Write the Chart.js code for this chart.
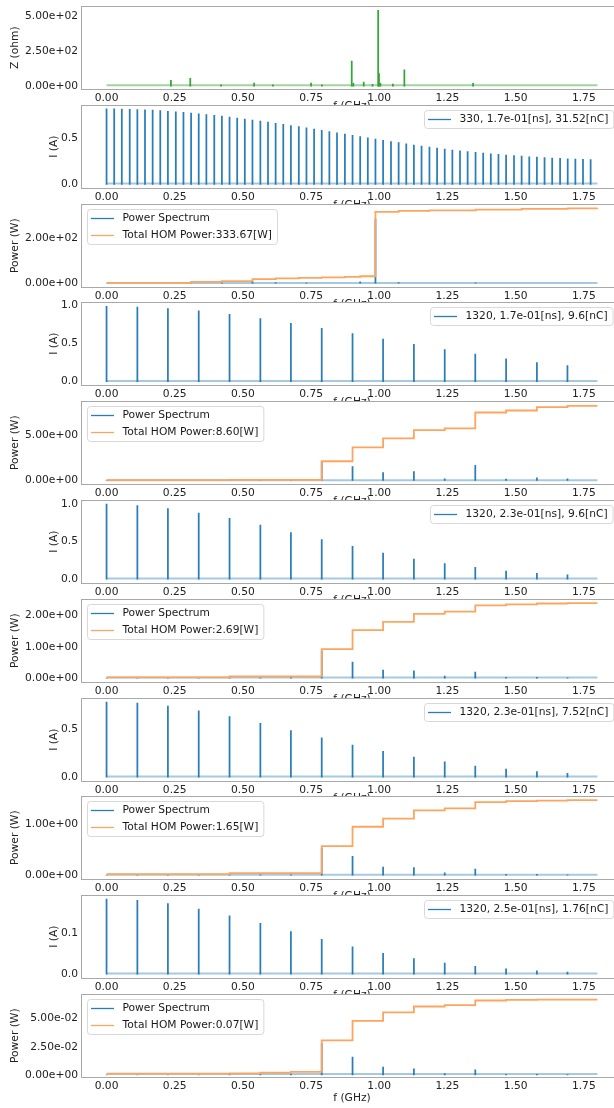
<!DOCTYPE html>
<html>
<head>
<meta charset="utf-8">
<script src="https://cdn.jsdelivr.net/npm/chart.js@4.4.0/dist/chart.umd.min.js"></script>
<style>
  html, body { margin: 0; padding: 0; background: #fff; }
  body { width: 614px; height: 1108px; overflow: hidden; position: relative; }
  canvas { position: absolute; left: 0; }
</style>
</head>
<body>
<script>
// frequency axis
const xTicks = [0, 0.25, 0.5, 0.75, 1.0, 1.25, 1.5, 1.75];
const fSpan = [0, 1.8];

// harmonic lines (GHz)
const f330 = [0.000, 0.028, 0.056, 0.085, 0.113, 0.141, 0.169, 0.197, 0.225, 0.254,
  0.282, 0.310, 0.338, 0.366, 0.395, 0.423, 0.451, 0.479, 0.507, 0.535,
  0.564, 0.592, 0.620, 0.648, 0.676, 0.705, 0.733, 0.761, 0.789, 0.817,
  0.845, 0.874, 0.902, 0.930, 0.958, 0.986, 1.014, 1.043, 1.071, 1.099,
  1.127, 1.155, 1.184, 1.212, 1.240, 1.268, 1.296, 1.324, 1.353, 1.381,
  1.409, 1.437, 1.465, 1.494, 1.522, 1.550, 1.578, 1.606, 1.634, 1.663,
  1.691, 1.719, 1.747, 1.775];
const f1320 = [0.000, 0.113, 0.225, 0.338, 0.451, 0.564, 0.676, 0.789,
  0.902, 1.014, 1.127, 1.240, 1.352, 1.465, 1.578, 1.690];

// impedance Z (ohm)
const zFreq = [0.236, 0.307, 0.420, 0.541, 0.610, 0.750, 0.790, 0.899, 0.905, 0.943, 0.975, 0.996, 0.999, 1.004, 1.050, 1.092, 1.344];
const zVals = [41, 56, 8, 22, 9, 22, 9, 179, 20, 29, 12, 543, 89, 20, 15, 116, 19];
const zBase = 6;

// current spectra I (A)
const i330 = [0.820, 0.820, 0.818, 0.816, 0.813, 0.810, 0.806, 0.801, 0.795, 0.789,
  0.782, 0.775, 0.767, 0.759, 0.750, 0.741, 0.731, 0.720, 0.709, 0.698,
  0.687, 0.676, 0.664, 0.652, 0.640, 0.627, 0.614, 0.600, 0.587, 0.573,
  0.560, 0.546, 0.533, 0.519, 0.506, 0.492, 0.479, 0.466, 0.453, 0.440,
  0.428, 0.416, 0.404, 0.393, 0.383, 0.373, 0.364, 0.355, 0.347, 0.339,
  0.332, 0.325, 0.318, 0.312, 0.306, 0.300, 0.295, 0.290, 0.286, 0.282,
  0.278, 0.275, 0.272, 0.270];
const i1320a = [0.99, 0.98, 0.96, 0.93, 0.885, 0.83, 0.767, 0.70, 0.63, 0.56, 0.49, 0.42, 0.36, 0.30, 0.25, 0.21];
const i1320b = [1.00, 0.98, 0.94, 0.88, 0.81, 0.72, 0.62, 0.53, 0.44, 0.35, 0.27, 0.21, 0.16, 0.11, 0.08, 0.06];
const i1320c = [0.78, 0.77, 0.74, 0.69, 0.63, 0.56, 0.485, 0.41, 0.335, 0.27, 0.21, 0.16, 0.115, 0.085, 0.058, 0.04];
const i1320d = [0.183, 0.180, 0.172, 0.159, 0.142, 0.124, 0.104, 0.085, 0.067, 0.051, 0.038, 0.027, 0.019, 0.013, 0.008, 0.0055];
const currentLabels = ['330, 1.7e-01[ns], 31.52[nC]', '1320, 1.7e-01[ns], 9.6[nC]',
  '1320, 2.3e-01[ns], 9.6[nC]', '1320, 2.3e-01[ns], 7.52[nC]', '1320, 2.5e-01[ns], 1.76[nC]'];

// power spectra (W) and cumulative HOM power steps
const p330F = [0.310, 0.423, 0.535, 0.620, 0.733, 0.930, 0.986, 1.071, 1.353];
const p330V = [5, 3, 10, 3, 2, 6, 284, 3, 2];
const step330F = [0, 0.310, 0.423, 0.535, 0.620, 0.705, 0.789, 0.874, 0.930, 0.986, 1.071, 1.184, 1.353, 1.522, 1.691, 1.800];
const step330 = [1.5, 6, 9, 18, 22, 24, 26, 28, 31, 317, 321, 324, 327, 330, 332, 333];
const spec5 = [0, 0, 0, 0, 0.02, 0.03, 0.04, 2.05, 1.53, 0.88, 0.99, 0.18, 1.68, 0.15, 0.29, 0.18];
const spec7 = [0, 0, 0, 0, 0.01, 0.01, 0.02, 0.87, 0.52, 0.26, 0.24, 0.07, 0.20, 0.03, 0.03, 0.01];
const spec9 = [0, 0, 0, 0, 0.01, 0.01, 0.01, 0.53, 0.37, 0.16, 0.15, 0.045, 0.12, 0.02, 0.02, 0.01];
const spec11 = [0, 0, 0, 0, 0.0003, 0.0005, 0.0007, 0.028, 0.0158, 0.0071, 0.0054, 0.0012, 0.0045, 0.0006, 0.0005, 0.0004];
const stepF = [0, 0.451, 0.789, 0.902, 1.014, 1.127, 1.240, 1.352, 1.465, 1.578, 1.690, 1.800];
const step5 = [0.04, 0.08, 2.12, 3.65, 4.64, 5.55, 5.73, 7.48, 7.70, 8.07, 8.21, 8.21];
const step7 = [0.03, 0.06, 0.93, 1.54, 1.80, 2.06, 2.13, 2.33, 2.36, 2.39, 2.40, 2.40];
const step9 = [0.02, 0.04, 0.57, 0.95, 1.11, 1.27, 1.31, 1.43, 1.45, 1.46, 1.47, 1.47];
const stepF11 = [0, 0.451, 0.564, 0.676, 0.789, 0.902, 1.014, 1.127, 1.240, 1.352, 1.465, 1.578, 1.690, 1.800];
const step11 = [0.0012, 0.0015, 0.0021, 0.0027, 0.0307, 0.0480, 0.0554, 0.0607, 0.0619, 0.0660, 0.0665, 0.0667, 0.0668, 0.0668];
const totalLabels = ['Total HOM Power:333.67[W]', 'Total HOM Power:8.60[W]',
  'Total HOM Power:2.69[W]', 'Total HOM Power:1.65[W]', 'Total HOM Power:0.07[W]'];

const BLUE = 'rgba(31,119,180,0.95)';
const BLUE_LIGHT = 'rgba(31,119,180,0.4)';
const ORANGE = '#fda55f';
const GREEN = 'rgba(44,160,44,0.95)';
const GREEN_LIGHT = 'rgba(44,160,44,0.45)';
const FONT = 10.7;

Chart.defaults.font.family = '"DejaVu Sans"';
Chart.defaults.font.size = FONT;
Chart.defaults.color = '#222';

const sci = (v) => {
    if (v === 0) return '0.00e+00';
    const e = Math.floor(Math.log10(Math.abs(v)) + 1e-9);
    const m = v / Math.pow(10, e);
    return m.toFixed(2) + 'e' + (e < 0 ? '-' : '+') + String(Math.abs(e)).padStart(2, '0');
};
const one = (v) => v.toFixed(1);

const zip = (xs, ys) => xs.map((x, i) => ({ x, y: ys[i] }));

const drawLegend = (chart, lg) => {
    const { ctx, chartArea: a } = chart;
    ctx.save();
    ctx.font = FONT + 'px "DejaVu Sans"';
    const tw = Math.max(...lg.items.map(it => ctx.measureText(it.text).width));
    const w = 35.5 + tw + 5;
    const h = 18 + (lg.items.length - 1) * 17;
    const x0 = Math.round(lg.side === 'left' ? a.left + 5 : a.right - 9 - w);
    const y0 = Math.round(a.top + 5);
    ctx.beginPath();
    ctx.roundRect(x0 + 0.5, y0 + 0.5, w, h, 3);
    ctx.fillStyle = 'rgba(255,255,255,0.8)';
    ctx.fill();
    ctx.strokeStyle = '#d8d8d8';
    ctx.lineWidth = 1;
    ctx.stroke();
    lg.items.forEach((it, i) => {
        const y = y0 + 9.5 + i * 17;
        ctx.strokeStyle = it.color;
        ctx.lineWidth = 1.3;
        ctx.beginPath();
        ctx.moveTo(x0 + 4, y);
        ctx.lineTo(x0 + 27, y);
        ctx.stroke();
        ctx.fillStyle = '#1a1a1a';
        ctx.textBaseline = 'middle';
        ctx.fillText(it.text, x0 + 35.5, y);
    });
    ctx.restore();
};

const framePlugin = {
    id: 'frame',
    beforeDraw(chart) {
        const { ctx, chartArea: a } = chart;
        ctx.save();
        ctx.fillStyle = '#fff';
        ctx.fillRect(a.left, a.top, a.right - a.left, a.bottom - a.top);
        ctx.restore();
    },
    afterDraw(chart, args, opts) {
        const { ctx, chartArea: a } = chart;
        ctx.save();
        ctx.strokeStyle = '#a8a8a8';
        ctx.lineWidth = 1;
        ctx.strokeRect(Math.round(a.left) - 0.5, Math.round(a.top) + 0.5,
            Math.round(a.right - a.left) + 1, Math.round(a.bottom - a.top));
        ctx.restore();
        if (opts.legend) drawLegend(chart, opts.legend);
    }
};

const addPanel = (k, p, last) => {
    const top = Math.round(6 + 98.8 * k);
    const xh = last ? 28 : 23.5;
    const cv = document.createElement('canvas');
    cv.width = 630;
    cv.height = Math.round(10 + 83 + xh + 2);
    cv.style.top = (top - 10) + 'px';
    document.body.appendChild(cv);

    const padL = p.yTitle === 'I (A)' ? 48 : 9;
    const datasets = [
        { type: 'bar', data: zip(p.freq, p.vals), backgroundColor: p.color, barThickness: 1.1, order: 3 },
        { type: 'line', data: zip(fSpan, [p.base, p.base]), borderColor: p.light, borderWidth: 2, pointRadius: 0, order: 2 }
    ];
    if (p.steps) {
        datasets.push({ type: 'line', data: zip(p.stepF, p.steps), borderColor: ORANGE, borderWidth: 1.8,
            pointRadius: 0, stepped: true, order: 1 });
    }

    new Chart(cv, {
        type: 'bar',
        data: { datasets },
        options: {
            responsive: false,
            animation: false,
            events: [],
            layout: { padding: { left: padL, top: 10, right: 8, bottom: cv.height - 93 - xh } },
            plugins: {
                legend: { display: false },
                tooltip: { enabled: false },
                frame: { legend: p.legend }
            },
            scales: {
                x: {
                    type: 'linear', min: -0.09, max: 1.89, offset: false,
                    grid: { display: false, drawTicks: false }, border: { display: false },
                    afterBuildTicks: s => { s.ticks = xTicks.map(v => ({ value: v })); },
                    afterFit: s => { s.height = xh; },
                    ticks: { padding: 3, maxRotation: 0, autoSkip: false, callback: v => v.toFixed(2) },
                    title: { display: true, text: 'f (GHz)', padding: 0 }
                },
                y: {
                    type: 'linear', min: p.range[0], max: p.range[1],
                    grid: { display: false, drawTicks: false }, border: { display: false },
                    afterBuildTicks: s => { s.ticks = p.yTicks.map(v => ({ value: v })); },
                    afterFit: s => { s.width = 82 - padL; },
                    ticks: { padding: 4, callback: p.fmt },
                    title: { display: true, text: p.yTitle, padding: 0 }
                }
            }
        },
        plugins: [framePlugin]
    });
};

const curLegend = (t) => ({ side: 'right', items: [{ text: t, color: BLUE }] });
const powLegend = (t) => ({ side: 'left', items: [{ text: 'Power Spectrum', color: BLUE }, { text: t, color: ORANGE }] });

const panels = [
    { freq: zFreq, vals: zVals, base: zBase, color: GREEN, light: GREEN_LIGHT, range: [-21, 571], yTicks: [0, 250, 500], fmt: sci, yTitle: 'Z (ohm)' },
    { freq: f330, vals: i330, base: 0.008, color: BLUE, light: BLUE_LIGHT, range: [-0.04, 0.858], yTicks: [0, 0.5], fmt: one, yTitle: 'I (A)', legend: curLegend(currentLabels[0]) },
    { freq: p330F, vals: p330V, base: 1.5, color: BLUE, light: BLUE_LIGHT, range: [-16.7, 350], yTicks: [0, 200], fmt: sci, yTitle: 'Power (W)', stepF: step330F, steps: step330, legend: powLegend(totalLabels[0]) },
    { freq: f1320, vals: i1320a, base: 0.009, color: BLUE, light: BLUE_LIGHT, range: [-0.045, 1.041], yTicks: [0, 0.5, 1.0], fmt: one, yTitle: 'I (A)', legend: curLegend(currentLabels[1]) },
    { freq: f1320, vals: spec5, base: 0.03, color: BLUE, light: BLUE_LIGHT, range: [-0.38, 8.70], yTicks: [0, 5], fmt: sci, yTitle: 'Power (W)', stepF: stepF, steps: step5, legend: powLegend(totalLabels[1]) },
    { freq: f1320, vals: i1320b, base: 0.009, color: BLUE, light: BLUE_LIGHT, range: [-0.05, 1.05], yTicks: [0, 0.5, 1.0], fmt: one, yTitle: 'I (A)', legend: curLegend(currentLabels[2]) },
    { freq: f1320, vals: spec7, base: 0.02, color: BLUE, light: BLUE_LIGHT, range: [-0.12, 2.52], yTicks: [0, 1, 2], fmt: sci, yTitle: 'Power (W)', stepF: stepF, steps: step7, legend: powLegend(totalLabels[2]) },
    { freq: f1320, vals: i1320c, base: 0.007, color: BLUE, light: BLUE_LIGHT, range: [-0.039, 0.819], yTicks: [0, 0.5], fmt: one, yTitle: 'I (A)', legend: curLegend(currentLabels[3]) },
    { freq: f1320, vals: spec9, base: 0.012, color: BLUE, light: BLUE_LIGHT, range: [-0.0735, 1.5435], yTicks: [0, 1], fmt: sci, yTitle: 'Power (W)', stepF: stepF, steps: step9, legend: powLegend(totalLabels[3]) },
    { freq: f1320, vals: i1320d, base: 0.002, color: BLUE, light: BLUE_LIGHT, range: [-0.0092, 0.192], yTicks: [0, 0.1], fmt: one, yTitle: 'I (A)', legend: curLegend(currentLabels[4]) },
    { freq: f1320, vals: spec11, base: 0.0008, color: BLUE, light: BLUE_LIGHT, range: [-0.0018, 0.0714], yTicks: [0, 0.025, 0.05], fmt: sci, yTitle: 'Power (W)', stepF: stepF11, steps: step11, legend: powLegend(totalLabels[4]) }
];

panels.forEach((p, k) => addPanel(k, p, k === panels.length - 1));
</script>
</body>
</html>
